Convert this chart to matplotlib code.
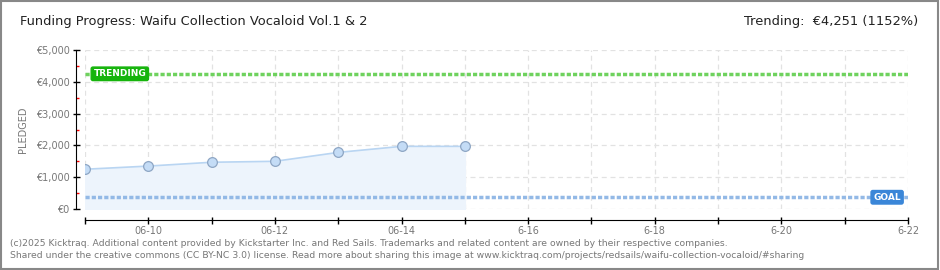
import matplotlib
matplotlib.use("Agg")
import matplotlib.pyplot as plt
import numpy as np
from matplotlib.patches import Rectangle

# ---- data ----
day_labels = ["06-09", "06-10", "06-11", "06-12", "06-13", "06-14", "06-15",
              "06-16", "06-17", "06-18", "06-19", "06-20", "06-21", "06-22"]
tick_text = ["", "06-10", "", "06-12", "", "06-14", "", "6-16", "", "6-18", "", "6-20", "", "6-22"]
pledged = [1250, 1350, 1470, 1500, 1780, 1970, 1970]
goal = 369
trending = 4251
y_max = 5000

title = "Funding Progress: Waifu Collection Vocaloid Vol.1 & 2"
trend_text = "Trending:  €4,251 (1152%)"
footer1 = "(c)2025 Kicktraq. Additional content provided by Kickstarter Inc. and Red Sails. Trademarks and related content are owned by their respective companies."
footer2 = "Shared under the creative commons (CC BY-NC 3.0) license. Read more about sharing this image at www.kicktraq.com/projects/redsails/waifu-collection-vocaloid/#sharing"

W, H = 940, 270
PX = 72 / 100  # points per pixel
fig = plt.figure(figsize=(W / 100, H / 100), dpi=100)
fig.patch.set_facecolor("white")
fig.patches.append(Rectangle((0.001, 0.002), 0.997, 0.995, transform=fig.transFigure,
                             fill=False, edgecolor="#888888", linewidth=1.5))

ax = fig.add_axes([85 / W, 1 - 209 / H, (908 - 85) / W, (209 - 50) / H])
x = np.arange(len(day_labels))
xp = np.arange(len(pledged))

ax.set_xlim(0, len(day_labels) - 1)
ax.set_ylim(0, y_max)

# grid
for xi in x:
    ax.axvline(xi, color="#e2e2e2", lw=0.9, ls=(0, (4, 3)), zorder=0)
for yi in range(0, y_max + 1, 1000):
    ax.axhline(yi, color="#e2e2e2", lw=0.9, ls=(0, (4, 3)), zorder=0)

ax.fill_between(xp, pledged, 0, color="#edf4fc", zorder=1)
ax.plot(xp, pledged, color="#b9d5f2", lw=1.2, zorder=2)
ax.plot(xp, pledged, ls="none", marker="o", ms=7, mfc="#c4dcf6", mec="#8ea6c4", mew=0.9, zorder=3)

ax.axhline(goal, color="#93b9e6", lw=2.5, ls=(0, (1.2, 0.6)), zorder=2)
ax.axhline(trending, color="#6fd25e", lw=2.5, ls=(0, (1.2, 0.6)), zorder=2)

ax.text(0.55, trending, "TRENDING", color="white", fontsize=6.5, fontweight="bold",
        ha="center", va="center", zorder=5,
        bbox=dict(boxstyle="round,pad=0.25,rounding_size=0.2", fc="#16b40c", ec="#16b40c"))
ax.text(12.67, goal, "GOAL", color="white", fontsize=6.5, fontweight="bold",
        ha="center", va="center", zorder=5,
        bbox=dict(boxstyle="round,pad=0.25,rounding_size=0.2", fc="#3a86d8", ec="#3a86d8"))

for s in ["top", "right"]:
    ax.spines[s].set_visible(False)
ax.spines["left"].set_position(("outward", 9 * PX))
ax.spines["bottom"].set_position(("outward", 11 * PX))
ax.spines["left"].set_bounds(0, y_max)

ax.set_yticks(range(0, y_max + 1, 1000))
ax.set_yticklabels(["€{:,}".format(v) for v in range(0, y_max + 1, 1000)])
ax.set_yticks(range(500, y_max, 1000), minor=True)
ax.tick_params(axis="y", which="major", direction="inout", length=7 * PX, width=1, color="black",
               labelsize=7, labelcolor="#777777", pad=2)
ax.tick_params(axis="y", which="minor", direction="in", length=3 * PX, width=1, color="red")

ax.set_xticks(x)
ax.set_xticklabels(tick_text)
ax.tick_params(axis="x", direction="inout", length=7 * PX, width=1, color="black",
               labelsize=7, labelcolor="#777777", pad=1.5)

ax.set_ylabel("PLEDGED", fontsize=7, color="#777777", labelpad=6)

fig.text(20 / W, 1 - 22 / H, title, fontsize=9.4, color="#222222", va="center", ha="left")
fig.text(918 / W, 1 - 22 / H, trend_text, fontsize=9.4, color="#222222", va="center", ha="right")
fig.text(10 / W, 1 - 243 / H, footer1, fontsize=6.7, color="#777777", va="center", ha="left")
fig.text(10 / W, 1 - 255 / H, footer2, fontsize=6.7, color="#777777", va="center", ha="left")

fig.savefig("out.png", dpi=100, facecolor="white")
